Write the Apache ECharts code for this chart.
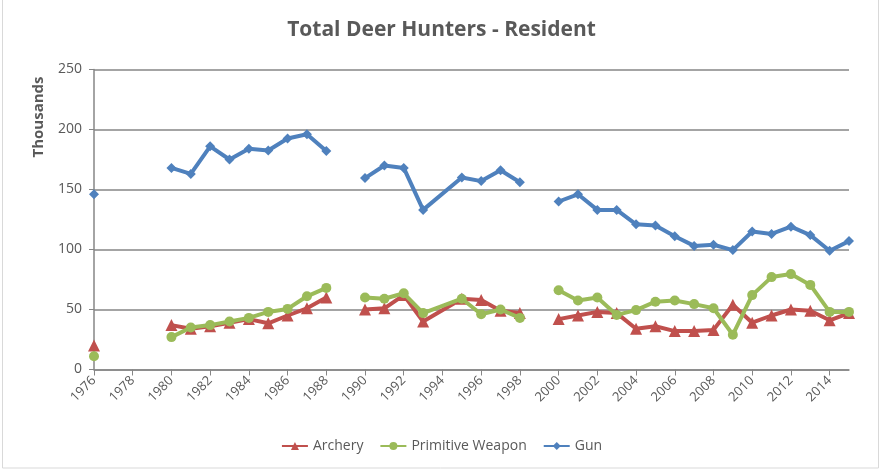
<!DOCTYPE html>
<html>
<head>
<meta charset="utf-8">
<script src="https://cdn.jsdelivr.net/npm/echarts@6/dist/echarts.min.js"></script>
<style>
  html, body { margin: 0; padding: 0; background: #fff; }
  #chart { width: 883px; height: 470px; }
</style>
</head>
<body>
<div id="chart"></div>
<script>
// years on the axis, 1976..2015
var years = [];
for (var y = 1976; y <= 2015; y++) years.push(String(y));

// values in thousands, null = no data that year
var archery = [20, null, null, null, 37, 34, 36, 39, 42, 38.5, 45, 51, 60,
  null, 50, 51, 62, 40, null, 59, 58, 49, 47,
  null, 42, 45, 48, 47, 34, 36, 32, 32, 33, 54, 39, 45, 50, 49, 41, 47];
var primitive = [11, null, null, null, 27, 35, 37, 40, 43, 48, 50.5, 61, 68,
  null, 60, 59, 63.5, 47, null, 59, 46, 50, 43,
  null, 66, 57.5, 60, 45.5, 49.5, 56.5, 57.5, 54.5, 51, 29, 62, 77, 79.5, 70.5, 48, 48];
var gun = [146, null, null, null, 168, 163, 186, 175, 184, 182.5, 192.5, 196, 182,
  null, 159.5, 170, 168, 133, null, 160, 157, 166, 156,
  null, 140, 146, 133, 133, 121, 120, 111, 103, 104, 99.5, 115, 113, 119, 112, 99, 107];

// missing years where the line is drawn straight across
var bridgedYears = ['1994'];

var seriesNames = ['Archery', 'Primitive Weapon', 'Gun'];
var seriesColors = ['#C0504D', '#9BBB59', '#4F81BD'];
var seriesSymbols = ['triangle', 'circle', 'diamond'];

function toData(values) {
  var out = [];
  values.forEach(function (v, i) {
    if (v === null && bridgedYears.indexOf(years[i]) >= 0) return;
    out.push([i, v === null ? '-' : v]);
  });
  return out;
}

var chart = echarts.init(document.getElementById('chart'));

var option = {
  animation: false,
  title: {
    text: 'Total Deer Hunters - Resident',
    left: 'center',
    top: 15,
    textStyle: { fontFamily: 'Open Sans', fontSize: 21, fontWeight: 'bold', color: '#595959' }
  },
  graphic: [
    {
      type: 'rect',
      shape: { x: 2.5, y: -1, width: 876, height: 469 },
      style: { fill: 'none', stroke: '#d9d9d9', lineWidth: 1 }
    },
    {
      type: 'text',
      x: 39, y: 117, rotation: Math.PI / 2,
      style: {
        text: 'Thousands', fontFamily: 'Open Sans', fontSize: 15, fontWeight: 'bold',
        fill: '#595959', align: 'center', verticalAlign: 'middle'
      }
    }
  ],
  legend: {
    bottom: 12,
    left: 'center',
    itemWidth: 26,
    itemHeight: 10,
    itemGap: 16,
    textStyle: { fontFamily: 'Liberation Sans Narrow, Open Sans', fontSize: 14, color: '#595959' },
    data: seriesNames
  },
  grid: { left: 94, right: 34, top: 69.5, bottom: 100.5, containLabel: false },
  xAxis: {
    type: 'category',
    data: years,
    boundaryGap: false,
    axisLine: { lineStyle: { color: '#868686', width: 1.5 } },
    axisTick: { interval: 1, length: 6, lineStyle: { color: '#868686' } },
    axisLabel: {
      interval: 1, rotate: 45, color: '#595959', fontFamily: 'Open Sans', fontSize: 13, margin: 9
    },
    splitLine: { show: false }
  },
  yAxis: {
    type: 'value',
    min: 0, max: 250, interval: 50,
    axisLine: { show: true, lineStyle: { color: '#868686', width: 1.5 } },
    axisTick: { show: true, length: 5, lineStyle: { color: '#868686' } },
    axisLabel: { color: '#595959', fontFamily: 'Open Sans', fontSize: 14, margin: 12 },
    splitLine: { lineStyle: { color: '#868686', width: 1.5 } }
  },
  series: [archery, primitive, gun].map(function (vals, k) {
    return {
      name: seriesNames[k],
      type: 'line',
      data: toData(vals),
      symbol: seriesSymbols[k],
      symbolSize: k === 0 ? 12 : 10,
      showAllSymbol: true,
      itemStyle: { color: seriesColors[k] },
      lineStyle: { color: seriesColors[k], width: 4 },
      z: 2 + k
    };
  })
};

chart.setOption(option);
</script>
</body>
</html>
